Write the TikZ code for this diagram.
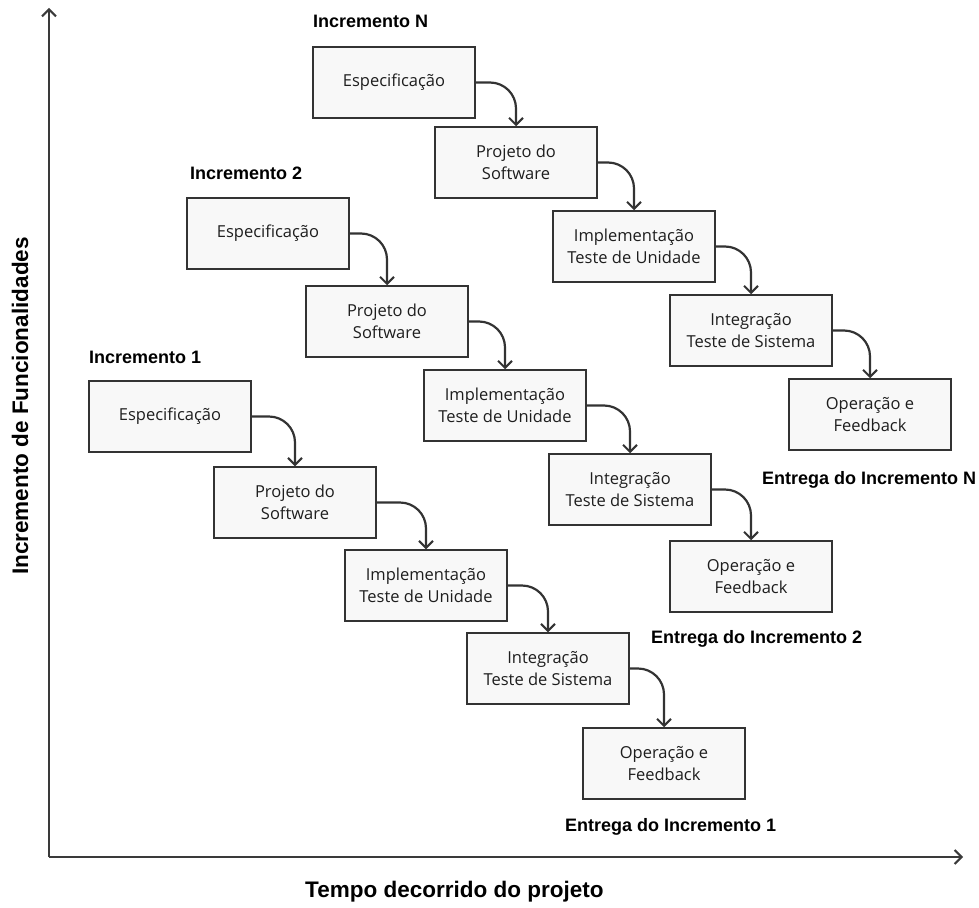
\documentclass[tikz,border=0pt]{standalone}
\usepackage{fontspec}
\setmainfont{Liberation Sans}
\newfontfamily\boxfont{Open Sans}
\usetikzlibrary{arrows.meta}
\definecolor{ink}{HTML}{333333}
\definecolor{boxtext}{HTML}{1E1E1E}
\definecolor{axisink}{HTML}{3A3A3A}
\definecolor{boxfill}{HTML}{F8F8F8}
\tikzset{
  phase/.style={draw=ink, fill=boxfill, line width=1.5pt, minimum width=162pt,
    minimum height=71pt, inner sep=0pt, align=center,
    font=\boxfont\fontsize{16.5}{21.5}\selectfont, text=boxtext},
  flow/.style={draw=ink, line width=2.2pt, rounded corners=26pt,
    -{Straight Barb[length=7pt,width=14pt,line width=2pt]}},
  axisline/.style={draw=axisink, line width=2.5pt,
    -{Straight Barb[length=7pt,width=14pt,line width=2pt]}},
  stage/.style={anchor=base west, inner sep=0pt, font=\bfseries\fontsize{18}{20}\selectfont},
  axislabel/.style={inner sep=0pt, font=\bfseries\fontsize{22.5}{24}\selectfont}
}
\begin{document}
\begin{tikzpicture}[x=1pt, y=-1pt]
\useasboundingbox (0,0) rectangle (979,907);

% axes
\coordinate (origin) at (49,857);
\coordinate (ytop) at (49,8);
\coordinate (xend) at (963,857);
\draw[axisline] (origin) -- (ytop);
\draw[axisline] (origin) -- (xend);
\node[axislabel, rotate=90] (ylabel) at (20,406) {Incremento de Funcionalidades};
\node[axislabel, anchor=base west] (xlabel) at (305,897) {Tempo decorrido do projeto};

% Incremento N
\node[stage] (labN) at (313,28) {Incremento N};
\node[phase] (n1) at (394,82.5) {Especificação};
\node[phase] (n2) at (516,162.5) {Projeto do\\Software};
\node[phase] (n3) at (634,246.5) {Implementação\\Teste de Unidade};
\node[phase] (n4) at (751,330.5) {Integração\\Teste de Sistema};
\node[phase] (n5) at (870,414.5) {Operação e\\Feedback};
\node[stage] (entN) at (762,484) {Entrega do Incremento N};

% Incremento 2
\node[stage] (lab2) at (190,179) {Incremento 2};
\node[phase] (b1) at (268,233.5) {Especificação};
\node[phase] (b2) at (387,321.5) {Projeto do\\Software};
\node[phase] (b3) at (505,405.5) {Implementação\\Teste de Unidade};
\node[phase] (b4) at (630,489.5) {Integração\\Teste de Sistema};
\node[phase] (b5) at (751,576.5) {Operação e\\Feedback};
\node[stage] (ent2) at (651,643) {Entrega do Incremento 2};

% Incremento 1
\node[stage] (lab1) at (89,363) {Incremento 1};
\node[phase] (a1) at (170,416.5) {Especificação};
\node[phase] (a2) at (295,502.5) {Projeto do\\Software};
\node[phase] (a3) at (426,585.5) {Implementação\\Teste de Unidade};
\node[phase] (a4) at (548,668.5) {Integração\\Teste de Sistema};
\node[phase] (a5) at (664,763.5) {Operação e\\Feedback};
\node[stage] (ent1) at (565,831) {Entrega do Incremento 1};

% connectors between phases
\foreach \p in {n,b,a}{
  \draw[flow] (\p1.east) -| (\p2.north);
  \draw[flow] (\p2.east) -| (\p3.north);
  \draw[flow] (\p3.east) -| (\p4.north);
  \draw[flow] (\p4.east) -| (\p5.north);
}
\end{tikzpicture}
\end{document}
